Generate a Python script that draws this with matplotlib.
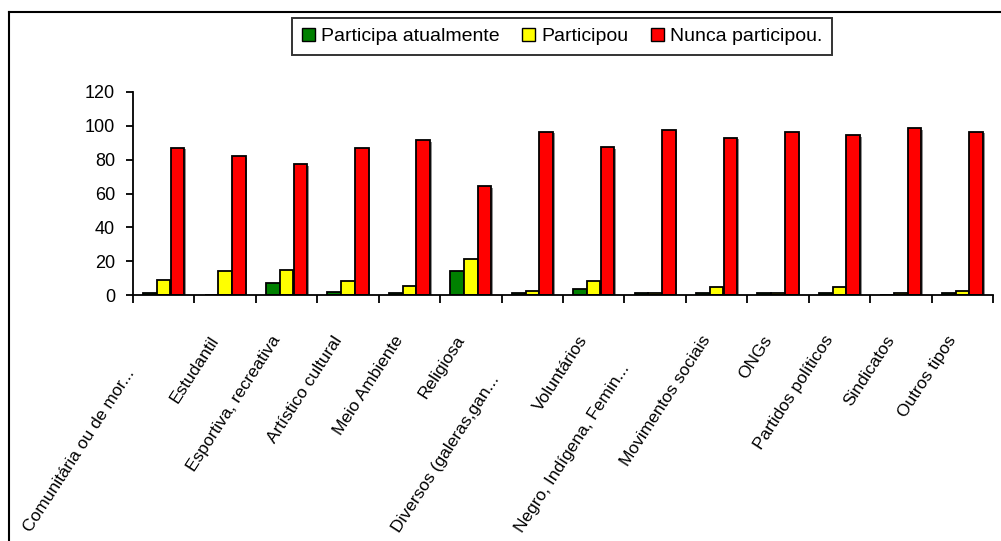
import matplotlib
matplotlib.use("Agg")
import matplotlib.pyplot as plt
import matplotlib.patheffects as pe
from matplotlib.lines import Line2D
from matplotlib.transforms import offset_copy
import numpy as np

plt.rcParams["font.family"] = ["Liberation Sans", "DejaVu Sans"]

categories = [
    "Comunitária ou de mor...", "Estudantil", "Esportiva, recreativa",
    "Artístico cultural", "Meio Ambiente", "Religiosa",
    "Diversos (galeras,gan...", "Voluntários", "Negro, Indígena, Femin...",
    "Movimentos sociais", "ONGs", "Partidos políticos", "Sindicatos",
    "Outros tipos",
]
series_names = ["Participa atualmente", "Participou", "Nunca participou."]
participa = [1, 0, 7, 2, 1, 14, 1, 3.5, 1, 1, 1, 1, 0, 1]
participou = [9, 14, 15, 8, 5.5, 21, 2.3, 8, 1, 4.5, 1, 4.5, 1, 2.3]
nunca = [87, 82, 77.5, 87, 91.5, 64.5, 96.5, 87.3, 97.8, 93, 96.5, 94.3, 98.8, 96.5]
colors = ["#008000", "#FFFF00", "#FF0000"]

fig = plt.figure(figsize=(10.01, 5.41), dpi=100)
W, H = 1001, 541
ax = fig.add_axes([133 / W, 1 - 295 / H, (993 - 133) / W, (295 - 92) / H])

x = np.arange(len(categories))
width = 0.22
shadow = [pe.SimplePatchShadow(offset=(1.2, -1.2), shadow_rgbFace="#909090", alpha=1), pe.Normal()]
for i, (vals, name, col) in enumerate(zip([participa, participou, nunca], series_names, colors)):
    ax.bar(x + (i - 1) * 0.225, vals, width, color=col, edgecolor="black",
           linewidth=1.3, label=name, path_effects=shadow)

ax.set_xlim(-0.5, len(categories) - 0.5)
ax.set_ylim(0, 120)
ax.set_yticks(range(0, 121, 20))
for s in ["top", "right"]:
    ax.spines[s].set_visible(False)
for s in ["left", "bottom"]:
    ax.spines[s].set_linewidth(1.3)
ax.tick_params(axis="y", direction="out", length=5, width=1.3, pad=8, labelsize=13)
ax.set_xticks(np.arange(-0.5, len(categories)))
ax.set_xticklabels([])
ax.tick_params(axis="x", direction="out", length=6, width=1.3)

# rotated category labels, placed in pixels below the axis line
for i, lab in enumerate(categories):
    if lab.endswith("..."):
        tr = offset_copy(ax.get_xaxis_transform(), fig, x=-130, y=-240, units="dots")
        ax.text(i, 0, lab, transform=tr, rotation=57, rotation_mode="anchor",
                ha="left", va="bottom", fontsize=12.5)
    else:
        tr = offset_copy(ax.get_xaxis_transform(), fig, x=-16, y=-38, units="dots")
        ax.text(i, 0, lab, transform=tr, rotation=57, rotation_mode="anchor",
                ha="right", va="top", fontsize=12.5)

leg = fig.legend(loc="center", bbox_to_anchor=(562 / W, 1 - 36.5 / H), ncol=3,
                 frameon=True, fancybox=False, edgecolor="black", fontsize=14,
                 handlelength=0.68, handleheight=0.68, handletextpad=0.3,
                 columnspacing=1.15, borderpad=0.5, borderaxespad=0)
leg.get_frame().set_linewidth(1.4)
for h in leg.legend_handles:
    h.set_path_effects([])
    h.set_linewidth(1.0)

# outer chart frame (left and top edges are visible)
fig.add_artist(Line2D([9 / W, 9 / W], [0, 1 - 12 / H], color="black", lw=1.5))
fig.add_artist(Line2D([9 / W, 1], [1 - 12 / H, 1 - 12 / H], color="black", lw=1.5))

fig.savefig("out.png", dpi=100)
